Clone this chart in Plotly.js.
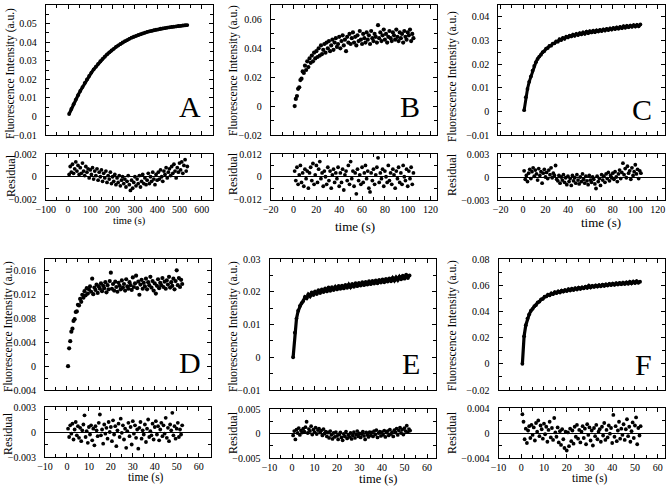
<!DOCTYPE html>
<html><head><meta charset="utf-8">
<script src="https://cdn.plot.ly/plotly-3.0.1.min.js"></script>
<style>html,body{margin:0;padding:0;background:#fff}#chart{width:669px;height:486px}</style>
</head><body><div id="chart"></div>
<script>
// ---------- data ----------
// Panel A
const tA = [5,15,25,35,45,55,65,75,85,95,105,115,125,135,145,155,165,175,185,195,205,215,225,235,245,255,265,275,285,295,305,315,325,335,345,355,365,375,385,395,405,415,425,435,445,455,465,475,485,495,505,515,525,535];
const fluorA = [0.0013,0.0040,0.0066,0.0091,0.0114,0.0137,0.0158,0.0180,0.0199,0.0218,0.0236,0.0253,0.0268,0.0283,0.0297,0.0310,0.0322,0.0334,0.0345,0.0355,0.0364,0.0374,0.0382,0.0390,0.0398,0.0405,0.0411,0.0418,0.0424,0.0429,0.0434,0.0439,0.0443,0.0447,0.0451,0.0455,0.0458,0.0461,0.0464,0.0467,0.0469,0.0472,0.0474,0.0476,0.0478,0.0480,0.0482,0.0484,0.0485,0.0487,0.0488,0.0490,0.0491,0.0492];
const tAres = [5,10,15,20,25,30,35,40,45,50,55,60,65,70,75,80,85,90,95,100,105,110,115,120,125,130,135,140,145,150,155,160,165,170,175,180,185,190,195,200,205,210,215,220,225,230,235,240,245,250,255,260,265,270,275,280,285,290,295,300,305,310,315,320,325,330,335,340,345,350,355,360,365,370,375,380,385,390,395,400,405,410,415,420,425,430,435,440,445,450,455,460,465,470,475,480,485,490,495,500,505,510,515,520,525,530,535];
const residA = [0.0002,0.0009,0.0004,0.0011,0.0003,0.0007,0.0013,0.0005,0.0010,0.0002,
  0.0008,0.0003,0.0012,0.0005,0.0001,0.0009,0.0004,0.0007,-0.0001,0.0006,
  0.0002,0.0008,-0.0002,0.0005,0.0001,0.0007,-0.0003,0.0004,0.0000,0.0006,
  -0.0004,0.0003,-0.0001,0.0005,-0.0005,0.0001,-0.0002,0.0004,-0.0006,0.0000,
  -0.0004,0.0002,-0.0007,-0.0001,-0.0005,0.0001,-0.0008,-0.0003,0.0000,-0.0006,
  -0.0002,-0.0009,-0.0004,0.0001,-0.0007,-0.0012,-0.0003,-0.0010,-0.0005,0.0000,
  -0.0008,-0.0002,-0.0006,0.0001,-0.0009,-0.0004,0.0002,-0.0006,-0.0001,-0.0007,
  -0.0003,0.0003,-0.0006,0.0000,-0.0004,0.0004,-0.0002,-0.0007,0.0002,-0.0003,
  0.0004,-0.0002,0.0006,0.0000,-0.0004,0.0005,0.0002,0.0008,-0.0001,0.0004,
  0.0007,0.0001,0.0009,0.0003,0.0011,0.0005,-0.0001,0.0008,0.0004,0.0012,
  0.0006,0.0013,0.0003,0.0010,0.0015,0.0005,0.0009];

// Panels B and C (0-105 s)
const tBC = [1,2.5,4,5.5,7,8.5,10,11.5,13,14.5,16,17.5,19,20.5,22,23.5,25,26.5,28,29.5,31,32.5,34,35.5,37,38.5,40,41.5,43,44.5,46,47.5,49,50.5,52,53.5,55,56.5,58,59.5,61,62.5,64,65.5,67,68.5,70,71.5,73,74.5,76,77.5,79,80.5,82,83.5,85,86.5,88,89.5,91,92.5,94,95.5,97,98.5,100,101.5,103,104.5];
const fluorC = [0.0005,0.0060,0.0095,0.0125,0.0148,0.0172,0.0192,0.0208,0.0222,0.0232,0.0240,0.0250,0.0255,0.0265,0.0268,0.0277,0.0278,0.0287,0.0288,0.0296,0.0295,0.0305,0.0302,0.0311,0.0307,0.0316,0.0313,0.0320,0.0317,0.0325,0.0320,0.0328,0.0323,0.0331,0.0326,0.0334,0.0328,0.0337,0.0331,0.0339,0.0334,0.0341,0.0335,0.0343,0.0338,0.0345,0.0340,0.0347,0.0342,0.0349,0.0344,0.0351,0.0346,0.0353,0.0348,0.0355,0.0350,0.0357,0.0352,0.0360,0.0354,0.0362,0.0356,0.0363,0.0358,0.0365,0.0359,0.0366,0.0360,0.0368];
const tBCd = [1,2,3,4,5,6,7,8,9,10,11,12,13,14,15,16,17,18,19,20,21,22,23,24,25,26,27,28,29,30,31,32,33,34,35,36,37,38,39,40,41,42,43,44,45,46,47,48,49,50,51,52,53,54,55,56,57,58,59,60,61,62,63,64,65,66,67,68,69,70,71,72,73,74,75,76,77,78,79,80,81,82,83,84,85,86,87,88,89,90,91,92,93,94,95,96,97,98,99,100,101,102,103,104,105];
const fluorB = [0.000,0.005,0.007,0.012,0.013,0.018,0.019,0.024,0.023,0.028,
  0.025,0.031,0.027,0.033,0.030,0.035,0.031,0.037,0.033,0.038,
  0.034,0.040,0.035,0.042,0.036,0.039,0.043,0.037,0.044,0.040,
  0.045,0.038,0.042,0.046,0.039,0.044,0.047,0.041,0.043,0.048,
  0.040,0.045,0.049,0.042,0.046,0.038,0.048,0.044,0.050,0.043,
  0.047,0.051,0.044,0.048,0.042,0.049,0.045,0.052,0.046,0.043,
  0.050,0.047,0.044,0.051,0.046,0.049,0.043,0.052,0.047,0.045,
  0.050,0.048,0.044,0.056,0.047,0.051,0.045,0.049,0.053,0.046,
  0.050,0.044,0.048,0.052,0.047,0.045,0.051,0.049,0.046,0.053,
  0.048,0.045,0.051,0.047,0.050,0.044,0.052,0.048,0.046,0.051,
  0.049,0.053,0.045,0.050,0.047];
const residB = [0.003,-0.002,0.005,-0.004,0.001,0.006,-0.003,0.002,-0.005,0.004,
  -0.001,0.003,-0.006,0.002,0.005,-0.002,0.007,-0.004,0.001,0.006,
  -0.003,0.004,0.008,-0.001,0.002,-0.005,0.003,0.000,-0.004,0.005,
  -0.002,0.003,-0.006,0.001,0.004,-0.003,0.002,-0.001,0.005,-0.005,
  0.002,-0.003,0.004,-0.007,0.001,0.003,-0.002,0.006,-0.004,0.008,
  -0.001,0.003,-0.005,0.002,-0.009,0.004,-0.002,0.001,-0.004,0.005,
  -0.003,0.002,0.006,-0.001,0.003,-0.006,-0.008,0.002,-0.002,0.004,
  -0.004,0.001,0.005,0.010,-0.003,0.002,-0.001,0.004,-0.005,0.003,
  0.000,-0.003,0.006,-0.002,0.002,-0.004,0.004,0.001,-0.006,0.003,
  -0.001,0.005,-0.003,0.002,-0.004,0.006,0.000,-0.002,0.004,-0.005,
  0.003,-0.001,0.005,-0.004,0.002];
const residC = [0.0008,-0.0003,0.0002,-0.0006,0.0005,0.0010,-0.0002,0.0007,0.0012,0.0001,
  0.0009,0.0004,-0.0004,0.0011,0.0002,0.0007,-0.0008,0.0005,0.0010,0.0000,
  0.0006,-0.0002,0.0009,0.0003,0.0012,-0.0001,0.0005,0.0002,0.0015,-0.0003,
  -0.0005,0.0002,-0.0008,0.0000,-0.0004,0.0003,-0.0007,-0.0001,-0.0010,0.0001,
  -0.0006,-0.0002,-0.0011,0.0002,-0.0005,-0.0001,-0.0008,0.0003,-0.0004,-0.0009,
  0.0000,-0.0006,0.0004,-0.0003,-0.0008,0.0001,-0.0005,-0.0010,0.0002,-0.0004,
  -0.0007,0.0000,-0.0003,-0.0009,-0.0015,0.0001,-0.0006,-0.0002,-0.0011,0.0003,
  -0.0004,0.0001,-0.0007,0.0004,-0.0002,0.0006,-0.0005,0.0002,-0.0001,0.0005,
  -0.0003,0.0007,0.0000,-0.0006,0.0004,0.0009,-0.0002,0.0006,0.0018,0.0003,
  0.0011,-0.0001,0.0014,0.0005,0.0008,-0.0003,0.0012,0.0002,0.0007,0.0016,
  0.0004,0.0010,-0.0002,0.0008,0.0005];

// Panels D, E and F (0-52 s)
const tDEF = [0.5,1.25,2,2.75,3.5,4.25,5,5.75,6.5,7.25,8,8.75,9.5,10.25,11,11.75,12.5,13.25,14,14.75,15.5,16.25,17,17.75,18.5,19.25,20,20.75,21.5,22.25,23,23.75,24.5,25.25,26,26.75,27.5,28.25,29,29.75,30.5,31.25,32,32.75,33.5,34.25,35,35.75,36.5,37.25,38,38.75,39.5,40.25,41,41.75,42.5,43.25,44,44.75,45.5,46.25,47,47.75,48.5,49.25,50,50.75,51.5,52.25];
const fluorE = [0.0000,0.0075,0.0118,0.0142,0.0157,0.0165,0.0172,0.0184,0.0180,0.0192,0.0186,0.0198,0.0190,0.0201,0.0193,0.0205,0.0196,0.0207,0.0199,0.0210,0.0201,0.0213,0.0203,0.0214,0.0205,0.0215,0.0207,0.0218,0.0209,0.0219,0.0210,0.0221,0.0212,0.0222,0.0214,0.0224,0.0215,0.0226,0.0217,0.0227,0.0219,0.0229,0.0220,0.0230,0.0222,0.0232,0.0223,0.0233,0.0225,0.0235,0.0226,0.0236,0.0228,0.0238,0.0229,0.0239,0.0231,0.0241,0.0232,0.0242,0.0234,0.0244,0.0236,0.0246,0.0238,0.0249,0.0240,0.0252,0.0242,0.0250];
const fluorF = [0.0000,0.0210,0.0295,0.0345,0.0378,0.0405,0.0420,0.0440,0.0448,0.0468,0.0475,0.0492,0.0496,0.0512,0.0514,0.0528,0.0523,0.0538,0.0532,0.0546,0.0540,0.0553,0.0545,0.0559,0.0551,0.0563,0.0556,0.0569,0.0560,0.0573,0.0564,0.0577,0.0568,0.0581,0.0572,0.0584,0.0576,0.0588,0.0580,0.0596,0.0583,0.0595,0.0587,0.0598,0.0590,0.0601,0.0592,0.0604,0.0595,0.0607,0.0598,0.0610,0.0601,0.0612,0.0603,0.0615,0.0606,0.0617,0.0608,0.0620,0.0610,0.0622,0.0612,0.0626,0.0614,0.0628,0.0617,0.0630,0.0619,0.0627];
const tDEFd = [0.5,1,1.5,2,2.5,3,3.5,4,4.5,5,5.5,6,6.5,7,7.5,8,8.5,9,9.5,10,10.5,11,11.5,12,12.5,13,13.5,14,14.5,15,15.5,16,16.5,17,17.5,18,18.5,19,19.5,20,20.5,21,21.5,22,22.5,23,23.5,24,24.5,25,25.5,26,26.5,27,27.5,28,28.5,29,29.5,30,30.5,31,31.5,32,32.5,33,33.5,34,34.5,35,35.5,36,36.5,37,37.5,38,38.5,39,39.5,40,40.5,41,41.5,42,42.5,43,43.5,44,44.5,45,45.5,46,46.5,47,47.5,48,48.5,49,49.5,50,50.5,51,51.5,52,52.5];
const fluorD = [0.0000,0.0030,0.0042,0.0058,0.0063,0.0076,0.0079,0.0091,0.0092,0.0103,
  0.0102,0.0113,0.0108,0.0120,0.0115,0.0126,0.0119,0.0131,0.0122,0.0129,
  0.0134,0.0125,0.0147,0.0121,0.0132,0.0128,0.0137,0.0123,0.0134,0.0130,
  0.0139,0.0126,0.0135,0.0131,0.0141,0.0124,0.0136,0.0129,0.0143,0.0157,
  0.0130,0.0138,0.0127,0.0142,0.0133,0.0125,0.0140,0.0135,0.0129,0.0144,
  0.0132,0.0138,0.0127,0.0146,0.0134,0.0130,0.0141,0.0136,0.0128,0.0149,
  0.0133,0.0139,0.0152,0.0131,0.0142,0.0120,0.0137,0.0145,0.0130,0.0140,
  0.0134,0.0147,0.0129,0.0141,0.0136,0.0150,0.0132,0.0143,0.0127,0.0139,
  0.0122,0.0135,0.0146,0.0131,0.0140,0.0136,0.0148,0.0133,0.0142,0.0130,
  0.0144,0.0137,0.0150,0.0132,0.0141,0.0135,0.0147,0.0129,0.0143,0.0161,
  0.0136,0.0148,0.0133,0.0145,0.0138];
const residD = [0.0004,-0.0006,0.0008,-0.0002,0.0010,-0.0009,0.0003,0.0012,-0.0004,0.0007,
  -0.0007,0.0005,-0.0011,0.0002,0.0009,0.0020,-0.0006,0.0001,-0.0013,0.0006,
  -0.0003,0.0008,-0.0010,0.0004,-0.0016,0.0007,0.0002,-0.0005,0.0011,0.0021,
  -0.0004,0.0003,-0.0014,0.0009,-0.0002,0.0005,-0.0008,0.0012,0.0000,0.0006,
  -0.0011,0.0014,-0.0003,0.0007,-0.0017,0.0002,0.0010,-0.0006,0.0016,-0.0001,
  0.0008,-0.0009,0.0004,-0.0019,0.0001,0.0011,-0.0005,0.0006,-0.0015,0.0013,
  -0.0002,0.0008,-0.0007,0.0003,-0.0020,0.0005,0.0012,-0.0008,0.0002,-0.0003,
  0.0009,-0.0012,0.0004,0.0015,-0.0006,0.0001,-0.0004,0.0010,-0.0009,0.0006,
  0.0013,-0.0003,0.0007,-0.0010,0.0003,0.0011,-0.0005,0.0008,-0.0002,0.0017,
  -0.0007,0.0005,-0.0011,0.0009,0.0002,0.0023,-0.0004,0.0007,-0.0008,0.0004,
  0.0011,-0.0006,0.0003,-0.0003,0.0008];
const residE = [-0.0004,0.0005,-0.0012,0.0008,0.0001,0.0011,-0.0003,0.0006,0.0002,0.0010,
  0.0004,0.0013,0.0024,0.0001,0.0009,0.0005,0.0015,-0.0002,0.0008,0.0003,
  0.0012,-0.0001,0.0007,0.0010,0.0002,0.0006,-0.0004,0.0009,0.0000,0.0004,
  -0.0006,0.0002,-0.0009,0.0005,-0.0003,-0.0011,0.0001,-0.0007,0.0003,-0.0005,
  -0.0012,-0.0002,0.0002,-0.0008,-0.0014,-0.0001,-0.0006,0.0004,-0.0010,-0.0003,
  -0.0007,0.0001,-0.0011,-0.0004,0.0003,-0.0009,-0.0002,0.0005,-0.0006,0.0000,
  -0.0008,-0.0001,0.0004,-0.0005,-0.0012,0.0002,-0.0003,-0.0007,0.0003,-0.0004,
  0.0002,-0.0006,0.0005,-0.0002,0.0007,-0.0008,0.0001,0.0004,-0.0005,0.0003,
  -0.0003,0.0006,-0.0007,0.0002,0.0005,-0.0004,0.0008,-0.0001,0.0003,-0.0006,
  0.0007,0.0002,0.0010,-0.0003,0.0006,0.0012,0.0001,0.0008,-0.0002,0.0011,
  0.0005,0.0016,0.0003,0.0009,0.0006];
const residF = [0.0030,0.0018,-0.0010,0.0007,-0.0016,0.0004,0.0011,-0.0008,0.0013,-0.0003,
  0.0009,-0.0012,0.0016,0.0002,0.0020,-0.0005,0.0012,0.0006,-0.0009,0.0015,
  -0.0002,0.0010,-0.0014,0.0005,0.0018,-0.0007,0.0008,-0.0011,0.0024,0.0001,
  -0.0006,0.0009,-0.0015,0.0003,-0.0019,0.0006,-0.0010,-0.0024,0.0002,-0.0028,
  0.0001,-0.0021,0.0007,-0.0013,0.0004,-0.0017,0.0010,-0.0006,0.0013,-0.0009,
  0.0005,-0.0015,0.0002,0.0011,-0.0008,0.0007,-0.0018,0.0014,-0.0003,0.0009,
  -0.0012,0.0004,-0.0020,0.0008,-0.0005,0.0013,-0.0010,0.0002,0.0006,-0.0014,
  0.0010,-0.0004,0.0016,-0.0011,0.0005,-0.0007,0.0012,-0.0001,0.0008,-0.0016,
  0.0029,-0.0006,0.0011,-0.0013,0.0004,0.0018,-0.0009,0.0007,-0.0003,0.0014,
  -0.0011,0.0006,0.0022,-0.0005,0.0010,-0.0014,0.0003,0.0017,-0.0008,0.0012,
  0.0025,-0.0018,0.0008,-0.0004,0.0011];

const panelLetters = ['A','B','C','D','E','F'];
const yTitleMain = 'Fluorescence Intensity (a.u.)';
const yTitleResid = 'Residual';
const xTitle = 'time (s)';

// ---------- layout configuration (positions in px, ranges, ticks, styles) ----------
const W = 669, H = 486;
const panels = [
  {tm:tA,  f:fluorA, tr:tAres, r:residA, smooth:true,  l:45.7, rgt:212.5, mt:5, mb:135, rt:154, rb:199.5, xr:[-100,648], xd:100, xm:50, yr:[-0.01,0.06], yd:0.01, ym:0.005, rr:[-0.002,0.002], rd:0.002, rm:0.001, lw:3.2, letter:[190,107], ytx:11, yty:74, rtx:11, rty:176, xtx:129, xty:221, xts:10.5, so:2.5},
  {tm:tBCd, f:fluorB, tr:tBCd, r:residB, smooth:false, l:270.7, rgt:436.5, mt:5, mb:135, rt:154, rb:199.5, xr:[-20,125.2], xd:20, xm:10, yr:[-0.02,0.07], yd:0.02, ym:0.01, rr:[-0.012,0.012], rd:0.012, rm:0.006, lw:0, letter:[410,107], ytx:233, yty:71, rtx:233, rty:174, xtx:355, xty:226, xts:13, so:2.5},
  {tm:tBC, f:fluorC, tr:tBCd, r:residC, smooth:true,  l:498.3, rgt:664.5, mt:5, mb:135, rt:154, rb:200, xr:[-22,126], xd:20, xm:10, yr:[-0.01,0.045], yd:0.01, ym:0.005, rr:[-0.003,0.003], rd:0.003, rm:0.0015, lw:3, letter:[642,110], ytx:452, yty:77, rtx:452, rty:175, xtx:601, xty:222, xts:13, so:2.5},
  {tm:tDEFd, f:fluorD, tr:tDEFd, r:residD, smooth:false, l:45, rgt:210.5, mt:259, mb:390, rt:407, rb:457, xr:[-10,65.4], xd:10, xm:5, yr:[-0.004,0.018], yd:0.004, ym:0.002, rr:[-0.003,0.003], rd:0.003, rm:0.0015, lw:0, letter:[190,362], ytx:8, yty:327, rtx:8, rty:434, xtx:146, xty:477, xts:11.5, so:0.5},
  {tm:tDEF, f:fluorE, tr:tDEFd, r:residE, smooth:true, l:269.5, rgt:436, mt:259, mb:390, rt:409, rb:458, xr:[-10,64], xd:10, xm:5, yr:[-0.01,0.03], yd:0.01, ym:0.005, rr:[-0.005,0.005], rd:0.005, rm:0.0025, lw:3.2, letter:[411,363], ytx:233, yty:327, rtx:233, rty:433, xtx:378, xty:479, xts:12.5, so:0.5},
  {tm:tDEF, f:fluorF, tr:tDEFd, r:residF, smooth:true, l:498.5, rgt:664.5, mt:259, mb:390, rt:408, rb:458, xr:[-10,63], xd:10, xm:5, yr:[-0.02,0.08], yd:0.02, ym:0.01, rr:[-0.004,0.004], rd:0.004, rm:0.002, lw:3.2, letter:[643,364], ytx:452, yty:326, rtx:452, rty:433, xtx:590, xty:478, xts:11.5, so:0}
];

const FONT = 'Liberation Serif, Times New Roman, serif';
const traces = [];
const layout = {
  width: W, height: H, margin: {l:0, r:0, t:0, b:0},
  paper_bgcolor: '#fff', plot_bgcolor: '#fff', showlegend: false,
  font: {family: FONT, color: '#000', size: 10},
  annotations: []
};

function axisBase(range, dtick, minor, domain, anchor, showLabels, zero, standoff) {
  return {
    domain: domain, anchor: anchor, range: range, dtick: dtick, tick0: 0,
    showgrid: false, zeroline: !!zero, zerolinecolor: '#000', zerolinewidth: 1,
    showline: true, linecolor: '#000', linewidth: 1, mirror: 'ticks',
    ticks: 'inside', ticklen: 4, tickwidth: 1, tickcolor: '#000',
    minor: {ticks: 'inside', ticklen: 3, dtick: minor, tick0: 0, tickcolor: '#000', showgrid: false},
    showticklabels: showLabels, exponentformat: 'none',
    tickfont: {family: FONT, size: 10, color: '#000'},
    ticklabelstandoff: standoff, fixedrange: true
  };
}

panels.forEach((p, i) => {
  const nMain = 2*i + 1, nRes = 2*i + 2;
  const xd = [p.l / W, p.rgt / W];
  const mainY = [1 - p.mb / H, 1 - p.mt / H];
  const resY = [1 - p.rb / H, 1 - p.rt / H];
  const sfx = nMain === 1 ? '' : String(nMain);
  const xm = 'x' + sfx, ym = 'y' + sfx;
  const xr = 'x' + nRes, yr = 'y' + nRes;
  layout['xaxis' + sfx] = axisBase(p.xr, p.xd, p.xm, xd, ym, false, false, 0);
  layout['yaxis' + sfx] = axisBase(p.yr, p.yd, p.ym, mainY, xm, true, false, 6);
  layout['xaxis' + nRes] = axisBase(p.xr, p.xd, p.xm, xd, yr, true, false, p.so);
  layout['yaxis' + nRes] = axisBase(p.rr, p.rd, p.rm, resY, xr, true, true, 6);
  if (p.smooth) {
    traces.push({type: 'scatter', mode: 'lines+markers', x: p.tm, y: p.f, xaxis: xm, yaxis: ym,
      line: {color: '#000', width: p.lw}, marker: {color: '#000', size: 3.8}, hoverinfo: 'skip'});
  } else {
    traces.push({type: 'scatter', mode: 'markers', x: p.tm, y: p.f, xaxis: xm, yaxis: ym,
      marker: {color: '#000', size: 4.2}, hoverinfo: 'skip'});
  }
  traces.push({type: 'scatter', mode: 'markers', x: p.tr, y: p.r, xaxis: xr, yaxis: yr,
    marker: {color: '#000', size: 3.8}, hoverinfo: 'skip'});
  const ann = (txt, x, y, size, angle) => layout.annotations.push({
    text: txt, xref: 'paper', yref: 'paper', x: x / W, y: 1 - y / H,
    xanchor: 'center', yanchor: 'middle', showarrow: false, textangle: angle || 0,
    font: {family: FONT, size: size, color: '#000'}
  });
  ann(panelLetters[i], p.letter[0], p.letter[1], 30, 0);
  ann(yTitleMain, p.ytx, p.yty, 11.5, -90);
  ann(yTitleResid, p.rtx, p.rty, 12, -90);
  ann(xTitle, p.xtx, p.xty, p.xts, 0);
});

Plotly.newPlot('chart', traces, layout, {staticPlot: true, displayModeBar: false});
</script>
</body></html>
